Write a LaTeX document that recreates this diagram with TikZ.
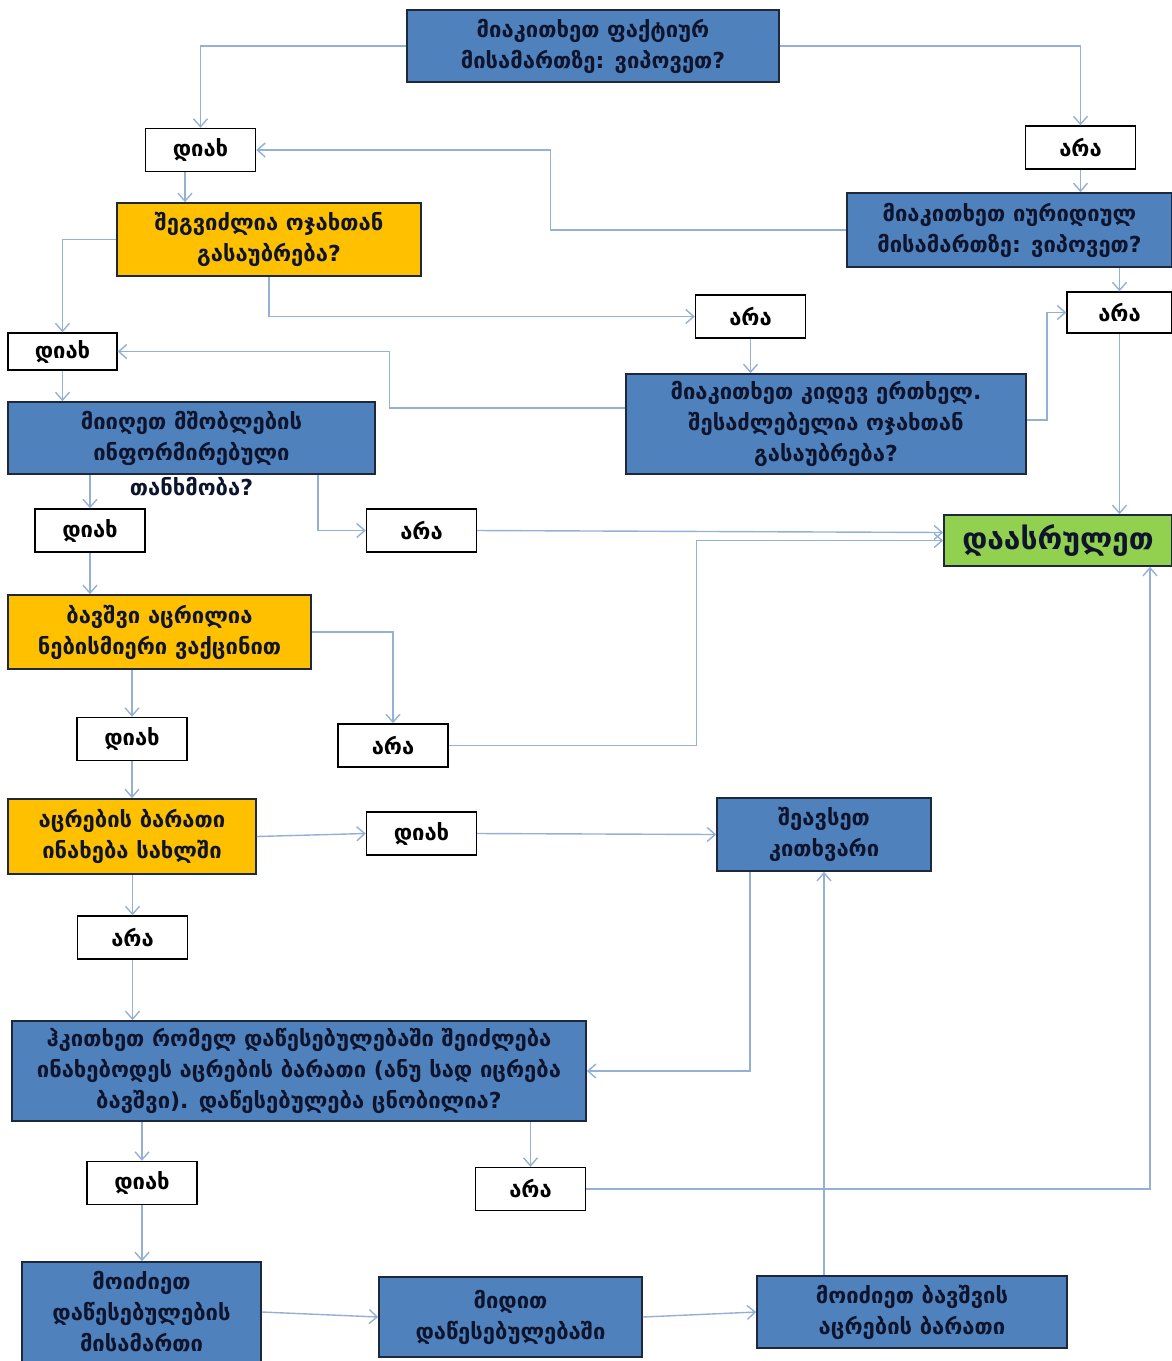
\documentclass[tikz,border=0pt]{standalone}
\usepackage{fontspec}
\setmainfont{DejaVu Sans}
\usetikzlibrary{arrows.meta,positioning}

\definecolor{qblue}{RGB}{79,129,189}
\definecolor{qorange}{RGB}{255,192,0}
\definecolor{qgreen}{RGB}{146,208,80}
\definecolor{qline}{RGB}{148,176,212}
\definecolor{qedge}{RGB}{30,40,60}
\definecolor{qtext}{RGB}{15,20,45}

\begin{document}
\begin{tikzpicture}[
  x=0.5pt, y=-0.5pt,
  size/.style 2 args={minimum width=#1*0.5pt, minimum height=#2*0.5pt},
  box/.style={draw=qedge, line width=0.8pt, align=center, inner sep=1pt,
    text=qtext, font=\bfseries\fontsize{11}{15.5}\selectfont},
  ask/.style={box, fill=qblue},
  check/.style={box, fill=qorange},
  yn/.style={draw=black, line width=0.7pt, fill=white, size={110}{43},
    font=\bfseries\fontsize{11}{14}\selectfont},
  arr/.style={-{Straight Barb[length=4pt,width=7pt]}, draw=qline, line width=0.7pt}
]
  \useasboundingbox (0,0) rectangle (1172,1361);

  % questions and steps
  \node[ask, size={372}{72}] (q1) at (593,46) {მიაკითხეთ ფაქტიურ\\მისამართზე: ვიპოვეთ?};
  \node[check, size={304}{73}] (q2) at (269,239.5) {შეგვიძლია ოჯახთან\\გასაუბრება?};
  \node[ask, size={325}{74}] (q3) at (1009.5,230) {მიაკითხეთ იურიდიულ\\მისამართზე: ვიპოვეთ?};
  \node[ask, size={400}{100}] (q4) at (826,424) {მიაკითხეთ კიდევ ერთხელ.\\შესაძლებელია ოჯახთან\\გასაუბრება?};
  \node[ask, size={367}{72}, label={[inner sep=0pt, label distance=1pt, text=qtext,
    font=\bfseries\fontsize{11}{15.5}\selectfont]below:თანხმობა?}] (q5) at (191.5,438)
    {მიიღეთ მშობლების\\ინფორმირებული};
  \node[check, size={303}{74}] (q6) at (159.5,632) {ბავშვი აცრილია\\ნებისმიერი ვაქცინით};
  \node[check, size={248}{75}] (q7) at (132,836.5) {აცრების ბარათი\\ინახება სახლში};
  \node[ask, size={214}{73}] (fill) at (824,834.5) {შეავსეთ\\კითხვარი};
  \node[ask, size={574}{100}] (q8) at (299,1071) {ჰკითხეთ რომელ დაწესებულებაში შეიძლება\\ინახებოდეს აცრების ბარათი (ანუ სად იცრება\\ბავშვი). დაწესებულება ცნობილია?};
  \node[ask, size={239}{100}] (a1) at (141.5,1312) {მოიძიეთ\\დაწესებულების\\მისამართი};
  \node[ask, size={263}{80}] (a2) at (510.5,1317) {მიდით\\დაწესებულებაში};
  \node[ask, size={310}{72}] (a3) at (912,1312) {მოიძიეთ ბავშვის\\აცრების ბარათი};
  \node[box, fill=qgreen, size={228}{51}, font=\bfseries\fontsize{15}{18}\selectfont] (end) at (1058,540.5) {დაასრულეთ};

  % answers
  \node[yn] (yes1) at (200.5,150) {დიახ};
  \node[yn] (no1) at (1080.5,147.5) {არა};
  \node[yn] (no2) at (750.5,316.5) {არა};
  \node[yn, size={105}{41}] (no3) at (1119.5,312.5) {არა};
  \node[yn, size={109}{37}] (yes2) at (62.5,351.5) {დიახ};
  \node[yn] (yes3) at (90,530.5) {დიახ};
  \node[yn] (no4) at (421.5,530.5) {არა};
  \node[yn] (yes4) at (132,739) {დიახ};
  \node[yn] (no5) at (393,745.5) {არა};
  \node[yn] (yes5) at (421.5,833.5) {დიახ};
  \node[yn] (no6) at (132.5,937.5) {არა};
  \node[yn] (yes6) at (142,1183) {დიახ};
  \node[yn] (no7) at (530.5,1189) {არა};

  \draw[arr] (q1.west) -| (yes1.north);
  \draw[arr] (q1.east) -| (no1.north);
  \draw[arr] ([xshift=-7.75pt]yes1.south) -- ([xshift=-42pt]q2.north);
  \draw[arr] (no1.south) -- (no1.south |- q3.north);
  \draw[arr] (q3.west) -- ++(-296,0) |- (yes1.east);
  \draw[arr] (no3.north |- q3.south) -- (no3.north);
  \draw[arr] (q2.west) -| (yes2.north);
  \draw[arr] (q2.south) |- (no2.west);
  \draw[arr] (no2.south) -- (no2.south |- q4.north);
  \draw[arr] ([yshift=8pt]q4.west) -- ++(-236,0) |- (yes2.east);
  \draw[arr] ([yshift=2pt]q4.east) -- ++(20,0) |- (no3.west);
  \draw[arr] (no3.south) -- (no3.south |- end.north);
  \draw[arr] (yes2.south) -- (yes2.south |- q5.north);
  \draw[arr] (yes3.north |- q5.south) -- (yes3.north);
  \draw[arr] ([xshift=63.25pt]q5.south) |- (no4.west);
  \draw[arr] (no4.east) -- ([yshift=4pt]end.west);
  \draw[arr] (yes3.south) -- (yes3.south |- q6.north);
  \draw[arr] (q6.east) -| (no5.north);
  \draw[arr] (yes4.north |- q6.south) -- (yes4.north);
  \draw[arr] (no5.east) -- ++(248,0) |- (end.west);
  \draw[arr] (yes4.south) -- (yes4.south |- q7.north);
  \draw[arr] (q7.east) -- (yes5.west);
  \draw[arr] (yes5.east) -- (fill.west);
  \draw[arr] (no6.north |- q7.south) -- (no6.north);
  \draw[arr] (no6.south) -- (no6.south |- q8.north);
  \draw[arr] ([xshift=-37pt]fill.south) |- (q8.east);
  \draw[arr] (yes6.north |- q8.south) -- (yes6.north);
  \draw[arr] (no7.north |- q8.south) -- (no7.north);
  \draw[arr] (no7.east) -| ([xshift=46pt]end.south);
  \draw[arr] (yes6.south) -- (yes6.south |- a1.north);
  \draw[arr] (a1.east) -- (a2.west);
  \draw[arr] (a2.east) -- (a3.west);
  \draw[arr] (fill.south |- a3.north) -- (fill.south);
\end{tikzpicture}
\end{document}
